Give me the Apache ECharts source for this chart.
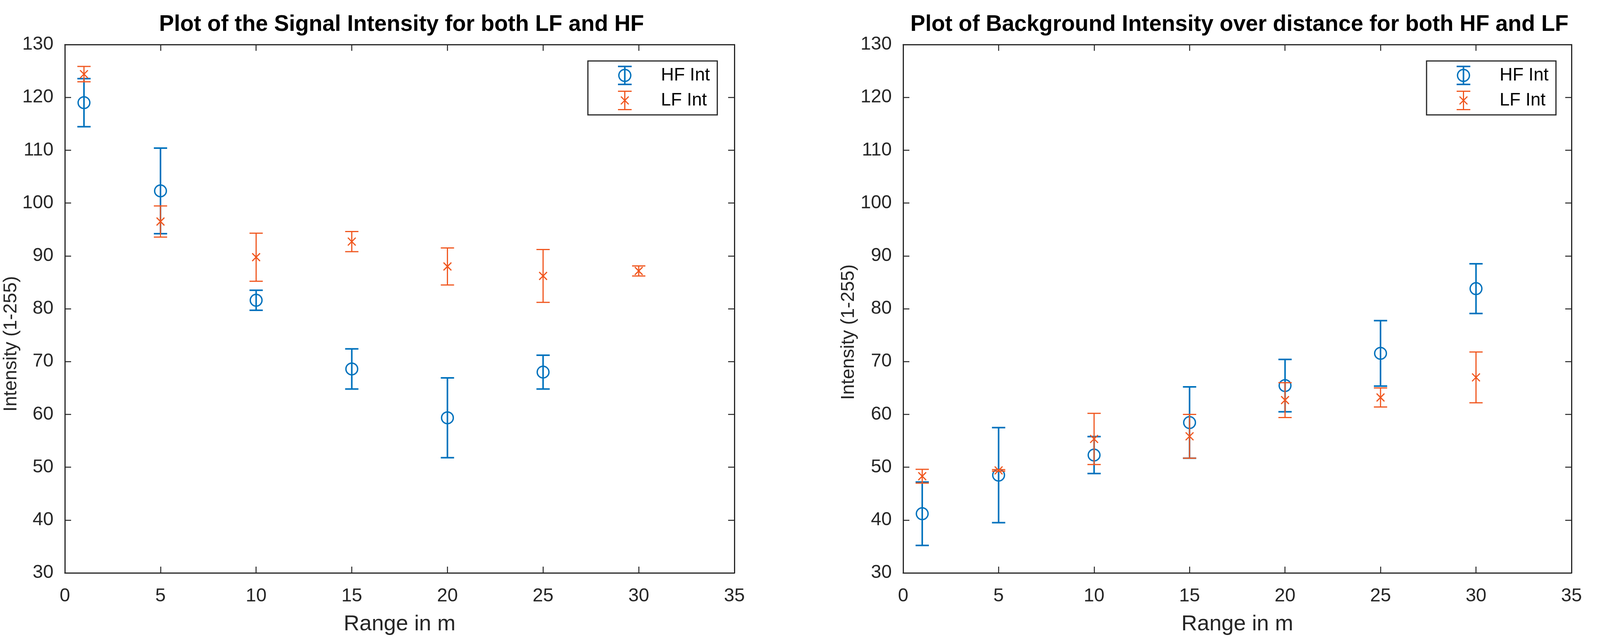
<!DOCTYPE html>
<html>
<head>
<meta charset="utf-8">
<script src="https://cdn.jsdelivr.net/npm/echarts@6/dist/echarts.min.js"></script>
<style>
html,body{margin:0;padding:0;background:#fff;}
#chart{width:4099px;height:1648px;}
</style>
</head>
<body>
<div id="chart"></div>
<script>
// ---- data ----
var ranges = [1, 5, 10, 15, 20, 25, 30];
var xTicks = [0, 5, 10, 15, 20, 25, 30, 35];
var yTicks = [30, 40, 50, 60, 70, 80, 90, 100, 110, 120, 130];

// Signal intensity (left panel); HF has no value at 30 m
var signalHF    = [119.0, 102.3, 81.6, 68.6, 59.35, 68.0];
var signalHFErr = [4.55, 8.1, 1.9, 3.8, 7.55, 3.2];
var signalLF    = [124.4, 96.5, 89.75, 92.7, 88.0, 86.2, 87.15];
var signalLFErr = [1.45, 2.95, 4.55, 1.9, 3.5, 5.0, 0.95];

// Background intensity (right panel)
var bgHF    = [41.2, 48.5, 52.3, 58.45, 65.45, 71.55, 83.8];
var bgHFErr = [6.0, 9.0, 3.5, 6.75, 4.95, 6.2, 4.7];
var bgLF    = [48.3, 49.4, 55.35, 55.85, 62.7, 63.2, 67.0];
var bgLFErr = [1.3, 0.15, 4.85, 4.15, 3.3, 1.8, 4.8];

var titles = ['Plot of the Signal Intensity for both LF and HF',
              'Plot of Background Intensity over distance for both HF and LF'];
var xName = 'Range in m';
var yName = 'Intensity (1-255)';
var legendNames = ['HF Int', 'LF Int'];

// ---- styling ----
var BLUE = '#0072BD';
var ORANGE = '#F0561E';
var AXIS = '#262626';
var FONT = "'Liberation Sans', Arial, Helvetica, sans-serif";

function build(xs, vals, errs) {
  var out = [];
  for (var i = 0; i < vals.length; i++) out.push([xs[i], vals[i], errs[i]]);
  return out;
}

function errRender(kind, color, lw) {
  return function (params, api) {
    var x = api.value(0), c = api.value(1), e = api.value(2);
    var top = api.coord([x, c + e]);
    var bot = api.coord([x, c - e]);
    var mid = api.coord([x, c]);
    var hw = 17;
    var st = {stroke: color, lineWidth: lw, fill: null};
    var ch = [
      {type: 'line', shape: {x1: top[0], y1: top[1], x2: bot[0], y2: bot[1]}, style: st},
      {type: 'line', shape: {x1: top[0] - hw, y1: top[1], x2: top[0] + hw, y2: top[1]}, style: st},
      {type: 'line', shape: {x1: bot[0] - hw, y1: bot[1], x2: bot[0] + hw, y2: bot[1]}, style: st}
    ];
    if (kind === 'circle') {
      ch.push({type: 'circle', shape: {cx: mid[0], cy: mid[1], r: 15},
               style: {stroke: color, lineWidth: 3.5, fill: null}});
    } else {
      var s = 10;
      var xs = {stroke: color, lineWidth: 3, fill: null};
      ch.push({type: 'line', shape: {x1: mid[0] - s, y1: mid[1] - s, x2: mid[0] + s, y2: mid[1] + s}, style: xs});
      ch.push({type: 'line', shape: {x1: mid[0] + s, y1: mid[1] - s, x2: mid[0] - s, y2: mid[1] + s}, style: xs});
    }
    return {type: 'group', children: ch};
  };
}

var hfIcon = 'path://M0,0H35V4H0Z M0,46H35V50H0Z M15.5,0H19.5V50H15.5Z ' +
  'M0.5,25A17,17 0 1,1 34.5,25A17,17 0 1,1 0.5,25Z M4,25A13.5,13.5 0 1,0 31,25A13.5,13.5 0 1,0 4,25Z';
var lfIcon = 'path://M0,0H35V3H0Z M0,47H35V50H0Z M16,0H19V50H16Z ' +
  'M8.56,13.94L28.56,33.94L26.44,36.06L6.44,16.06Z M28.56,16.06L8.56,36.06L6.44,33.94L26.44,13.94Z';

var grids = [
  {left: 166, top: 114, width: 1714, height: 1352},
  {left: 2312, top: 114, width: 1711, height: 1352}
];

var xAxes = [], yAxes = [];
[0, 1].forEach(function (g) {
  var base = {
    gridIndex: g, type: 'value', min: 0, max: 35, interval: 5,
    axisLine: {show: true, onZero: false, lineStyle: {color: AXIS, width: 3}},
    axisTick: {show: true, inside: true, length: 16, lineStyle: {color: AXIS, width: 2.5}},
    splitLine: {show: false}
  };
  xAxes.push(Object.assign({}, base, {
    position: 'bottom',
    axisLabel: {show: true, color: AXIS, fontSize: 48, fontFamily: FONT, margin: 36,
                formatter: function (v) { return xTicks.indexOf(v) >= 0 ? String(v) : ''; }},
    name: xName, nameLocation: 'middle', nameGap: 104,
    nameTextStyle: {color: AXIS, fontSize: 56, fontFamily: FONT}
  }));
  xAxes.push(Object.assign({}, base, {position: 'top', axisLabel: {show: false}}));
  var ybase = {
    gridIndex: g, type: 'value', min: 30, max: 130, interval: 10,
    axisLine: {show: true, onZero: false, lineStyle: {color: AXIS, width: 3}},
    axisTick: {show: true, inside: true, length: 16, lineStyle: {color: AXIS, width: 2.5}},
    splitLine: {show: false}
  };
  yAxes.push(Object.assign({}, ybase, {
    position: 'left',
    axisLabel: {show: true, color: AXIS, fontSize: 48, fontFamily: FONT, margin: 29,
                formatter: function (v) { return yTicks.indexOf(v) >= 0 ? String(v) : ''; }},
    name: yName, nameLocation: 'middle', nameGap: g === 0 ? 95 : 115,
    nameTextStyle: {color: AXIS, fontSize: 48, fontFamily: FONT,
                    padding: g === 0 ? [0, 180, 0, 0] : [0, 120, 0, 0]}
  }));
  yAxes.push(Object.assign({}, ybase, {position: 'right', axisLabel: {show: false}}));
});

function series(name, data, g, kind, color, lw) {
  return {
    type: 'custom', name: name, xAxisIndex: g * 2, yAxisIndex: g * 2,
    data: data, encode: {x: 0, y: 1},
    itemStyle: {color: color},
    renderItem: errRender(kind, color, lw),
    clip: false, silent: true, animation: false
  };
}

var legendBase = {
  orient: 'vertical', top: 156,
  padding: [12, 19, 12, 77],
  itemWidth: 35, itemHeight: 50, itemGap: 14,
  backgroundColor: '#fff', borderColor: AXIS, borderWidth: 3, borderRadius: 0,
  textStyle: {color: '#000', fontSize: 46, fontFamily: FONT, padding: [0, 0, 0, 70]},
  itemStyle: {borderWidth: 0},
  selectedMode: false
};

var option = {
  backgroundColor: '#fff',
  animation: false,
  title: [
    {text: titles[0], left: 1023, textAlign: 'center', top: 30,
     textStyle: {fontSize: 57, fontWeight: 'bold', color: '#000', fontFamily: FONT}},
    {text: titles[1], left: 3168, textAlign: 'center', top: 30,
     textStyle: {fontSize: 57, fontWeight: 'bold', color: '#000', fontFamily: FONT}}
  ],
  legend: [
    Object.assign({}, legendBase, {left: 1505,
      data: [{name: legendNames[0], icon: hfIcon}, {name: legendNames[1], icon: lfIcon}]}),
    Object.assign({}, legendBase, {left: 3652,
      data: [{name: legendNames[0], icon: hfIcon}, {name: legendNames[1], icon: lfIcon}]})
  ],
  grid: grids,
  xAxis: xAxes,
  yAxis: yAxes,
  series: [
    series(legendNames[0], build(ranges, signalHF, signalHFErr), 0, 'circle', BLUE, 4),
    series(legendNames[1], build(ranges, signalLF, signalLFErr), 0, 'x', ORANGE, 3),
    series(legendNames[0], build(ranges, bgHF, bgHFErr), 1, 'circle', BLUE, 4),
    series(legendNames[1], build(ranges, bgLF, bgLFErr), 1, 'x', ORANGE, 3)
  ]
};

var chart = echarts.init(document.getElementById('chart'), null, {renderer: 'canvas'});
chart.setOption(option);
</script>
</body>
</html>
